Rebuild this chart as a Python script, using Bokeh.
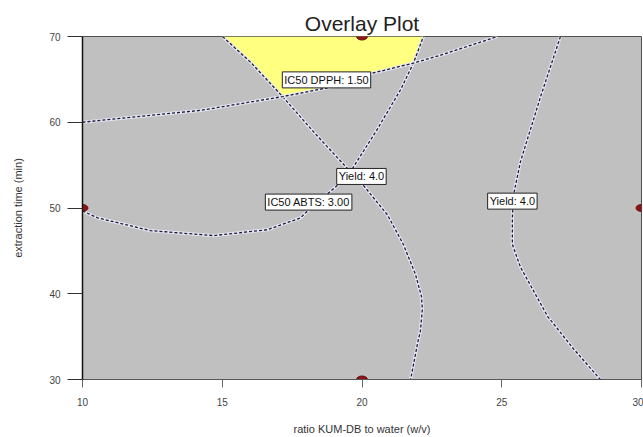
from bokeh.plotting import figure
from bokeh.models import Range1d, FixedTicker, Label
from bokeh.embed import file_html
from bokeh.resources import INLINE

# ---- data ----
x_ticks = [10, 15, 20, 25, 30]
y_ticks = [30, 40, 50, 60, 70]

# Yield 4.0 (left branch)
yield_left_x = [15.01, 16.01, 17.16, 18.34, 19.48, 20.05, 20.91, 21.48, 21.91, 22.13, 22.16, 22.09, 21.99, 21.74]
yield_left_y = [70.0, 67.01, 62.99, 58.62, 54.60, 52.64, 49.20, 45.75, 42.30, 39.66, 38.16, 35.63, 34.25, 30.0]
# IC50 ABTS 3.00
abts_x = [10.0, 10.54, 12.43, 14.69, 16.62, 17.80, 18.16, 19.12, 19.66, 20.55, 21.38, 21.84, 22.20]
abts_y = [49.66, 48.85, 47.36, 46.78, 47.47, 48.85, 50.0, 52.64, 54.60, 59.20, 63.79, 66.90, 70.0]
# IC50 DPPH 1.50
dpph_x = [10.0, 12.08, 14.22, 17.16, 18.77, 20.41, 21.84, 22.81, 24.85]
dpph_y = [60.0, 60.69, 61.38, 62.99, 64.02, 65.75, 66.90, 67.82, 70.0]
# Yield 4.0 (right branch)
yield_right_x = [27.10, 26.39, 25.67, 25.42, 25.38, 25.38, 25.67, 26.64, 27.57, 28.53]
yield_right_y = [70.0, 62.99, 55.40, 51.49, 48.85, 45.75, 43.10, 37.36, 33.56, 30.0]

# design points
dp_x = [20, 10, 30, 20]
dp_y = [70, 50, 50, 30]

# contour labels
lab_text = ["IC50 DPPH: 1.50", "Yield: 4.0", "IC50 ABTS: 3.00", "Yield: 4.0"]
lab_x = [18.73, 19.98, 18.09, 25.38]
lab_y = [64.94, 53.68, 50.69, 50.80]

# ---- figure ----
p = figure(width=643, height=437, output_backend="svg", toolbar_location=None,
           x_range=Range1d(10, 30), y_range=Range1d(30, 70),
           min_border_left=82, min_border_right=2, min_border_top=36, min_border_bottom=53)
p.background_fill_color = "#c0c0c0"
p.border_fill_color = "white"
p.outline_line_color = "#505050"
p.outline_line_width = 1
p.xgrid.visible = False
p.ygrid.visible = False

p.title.text = "Overlay Plot"
p.title.align = "center"
p.title.text_font = "Liberation Sans"
p.title.text_font_size = "21px"
p.title.text_font_style = "normal"
p.title.text_color = "#222222"
p.title.standoff = 4

# feasible (yellow) region built from the contour arrays
region_x = yield_left_x[0:3] + dpph_x[4:7] + abts_x[12:]
region_y = yield_left_y[0:3] + dpph_y[4:7] + abts_y[12:]
p.patch(region_x, region_y, fill_color="#ffff80", line_color=None)

for cx, cy in [(yield_left_x, yield_left_y), (abts_x, abts_y), (dpph_x, dpph_y), (yield_right_x, yield_right_y)]:
    p.line(cx, cy, line_color="#e8e8f8", line_width=3.2, line_alpha=0.9)
    p.line(cx, cy, line_color="#1e1e34", line_width=1.3, line_dash="3 2")

for t, lx, ly in zip(lab_text, lab_x, lab_y):
    p.add_layout(Label(x=lx, y=ly, text=t, text_align="center", text_baseline="middle",
                       text_font="Liberation Sans", text_font_size="11px", text_color="#111111",
                       background_fill_color="white", border_line_color="#222222",
                       border_line_width=1, padding=2))

p.ellipse(dp_x, dp_y, width=11, height=7, width_units="screen", height_units="screen",
          fill_color="#8b1414", line_color="#6a0f0f")

# axes
p.xaxis.ticker = FixedTicker(ticks=x_ticks)
p.yaxis.ticker = FixedTicker(ticks=y_ticks)
for ax in (p.xaxis, p.yaxis):
    ax.minor_tick_line_color = None
    ax.major_tick_in = 0
    ax.major_label_text_font = "Liberation Sans"
    ax.major_label_text_font_size = "10px"
    ax.major_label_text_color = "#444444"
    ax.axis_label_text_font = "Liberation Sans"
    ax.axis_label_text_font_size = "11px"
    ax.axis_label_text_font_style = "normal"
    ax.axis_label_text_color = "#333333"

p.xaxis.axis_label = "ratio KUM-DB to water (w/v)"
p.yaxis.axis_label = "extraction time (min)"
p.xaxis.major_tick_out = 8
p.yaxis.major_tick_out = 15
p.xaxis.major_label_standoff = 10
p.yaxis.major_label_standoff = 7
p.xaxis.axis_label_standoff = 14
p.yaxis.axis_label_standoff = 22
p.xaxis.axis_line_color = "#555555"
p.xaxis.major_tick_line_color = "#666666"
p.yaxis.axis_line_color = "#111111"
p.yaxis.axis_line_width = 1.5
p.yaxis.major_tick_line_color = "#333333"

open("out.html", "w").write(file_html(p, INLINE))
